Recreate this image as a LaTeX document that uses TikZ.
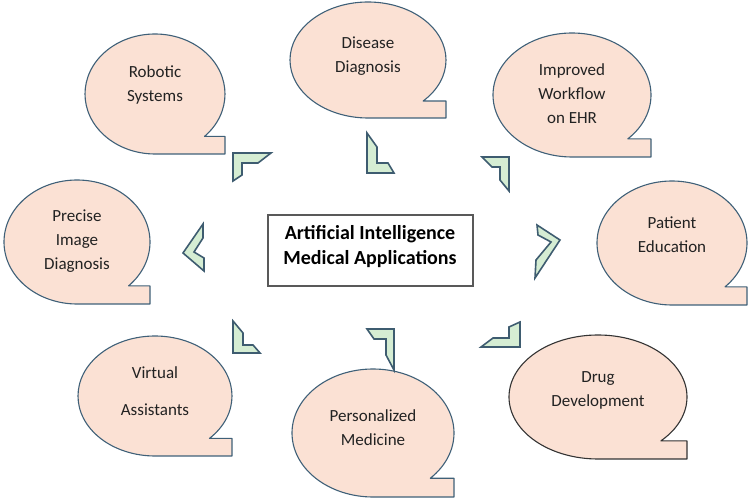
\documentclass[tikz,border=0pt]{standalone}
\usepackage{fontspec}
\setmainfont{Carlito}
\definecolor{bubfill}{HTML}{FBE1D4}
\definecolor{bubline}{HTML}{3F6078}
\definecolor{chevfill}{HTML}{D5EDD3}
\definecolor{chevline}{HTML}{3E5C70}
\definecolor{txt}{HTML}{222222}
\tikzset{
  bubble/.style={fill=bubfill, draw=bubline, line width=1.1pt, line join=round},
  btext/.style={align=center, text=txt, font=\fontsize{17}{24}\selectfont, inner sep=0pt},
  chev/.style={fill=chevfill, draw=chevline, line width=1.6pt, line join=miter},
  centerbox/.style={draw=black!65, line width=1.4pt, fill=white, minimum width=205pt, minimum height=71pt, inner sep=0pt},
}
\newcommand{\bub}[8][bubble]{%
  \draw[#1] ({#3+#5*cos(45)},{#4+#6*sin(45)}) arc[start angle=-45,end angle=270,x radius=#5pt,y radius=#6pt]
    -- ({#3+#5},{#4+#6}) -- ({#3+#5},{#4+#6*sin(45)}) -- cycle;
  \node[btext] (#2) at ({#3},{#4+#7}) {#8};
}
\begin{document}
\begin{tikzpicture}[x=1pt,y=-1pt]
\useasboundingbox (0,0) rectangle (750,502);

% bubbles
\bub{robotic}{155}{94}{70}{60}{-9}{Robotic\\Systems}
\bub{disease}{368}{60}{78}{58}{-4}{Disease\\Diagnosis}
\bub{workflow}{572}{95}{79}{62}{-1}{Improved\\Workflow\\on EHR}
\bub{precise}{77}{242}{73}{62}{-1}{Precise\\Image\\Diagnosis}
\bub{patient}{672}{243}{75}{62}{-8}{Patient\\Education}
\bub{virtual}{155}{396}{77}{60}{-5}{Virtual\\[13pt]Assistants}
\bub[bubble,draw=black!80]{drug}{598}{397}{89}{62}{-7}{Drug\\Development}
\bub{personal}{373}{433}{81}{64}{-5}{Personalized\\Medicine}

% center box
\node[centerbox] (center) at (370.5,250.5) {};
\node[align=center, text=black, font=\bfseries\fontsize{20}{25}\selectfont, inner sep=0pt] (ctext) at (370,247)
  {Artificial Intelligence\\Medical Applications};

% chevrons
\draw[chev] (233,153) -- (271,153) -- (258,163) -- (242,163) -- (242,175) -- (233,181) -- cycle;
\draw[chev] (367,133) -- (367,173) -- (394,173) -- (388,163) -- (377,163) -- (377,147) -- cycle;
\draw[chev] (482,157) -- (509,157) -- (509,191) -- (500,180) -- (500,167) -- (492,167) -- cycle;
\draw[chev] (203,224) -- (183,253) -- (204,271) -- (204,258) -- (194,252) -- (203,238) -- cycle;
\draw[chev] (537,225) -- (560,240) -- (535,278) -- (536,260) -- (551,242) -- (538,235) -- cycle;
\draw[chev] (233,321) -- (233,353) -- (260,353) -- (253,345) -- (243,345) -- (243,333) -- cycle;
\draw[chev] (367,329) -- (394,329) -- (394,370) -- (386,355) -- (386,339) -- (374,339) -- cycle;
\draw[chev] (520,322) -- (520,347) -- (481,347) -- (493,338) -- (509,338) -- (509,327) -- cycle;
\end{tikzpicture}
\end{document}
